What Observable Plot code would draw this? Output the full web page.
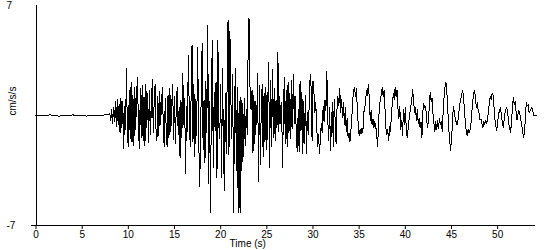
<!DOCTYPE html>
<html>
<head>
<meta charset="utf-8">
<script src="https://cdn.jsdelivr.net/npm/d3@7"></script>
<script src="https://cdn.jsdelivr.net/npm/@observablehq/plot@0.6"></script>
<style>
  html, body { margin: 0; padding: 0; background: #fff; }
  #chart svg { display: block; }
</style>
</head>
<body>
<div id="chart"></div>
<script>
// ---- data (acceleration, cm/s/s) ----
const xLabel = "Time (s)";
const yLabel = "cm/s/s";
const xTicks = [0, 5, 10, 15, 20, 25, 30, 35, 40, 45, 50];
const yTicks = [-7, 7];

// pre-event noise, t = 0 .. 7.5 s, every 0.5 s
const preStart = 0, preStep = 0.5;
const accPre = [0, 0.03, -0.03, 0.04, 0, -0.04, 0.03, -0.02, 0.04, -0.03, 0.02, -0.04, 0.03, 0, -0.03, 0.05];

// main record, every 0.1 s
const step = 0.1;
const start08 = 8;
const acc08to18 = [
  0.1, -0.3, 0.4, -0.5, 0.5, -0.4, 0.9, -0.7, 1.0, -0.6,
  0.7, -1.1, 1.1, -0.8, 0.9, -2.1, 0.6, -0.9, 3.0, -1.2,
  -2.0, 1.6, -1.5, 2.1, -1.7, 1.3, -1.9, 1.8, -0.9, 1.5,
  2.4, -1.0, -2.1, 1.7, -1.4, 1.9, -1.6, 1.2, -1.9, 2.0,
  -0.8, 1.4, -1.7, 1.6, -1.2, 0.7, 2.3, -1.1, 0.9, 2.0,
  -0.9, -1.6, 1.2, -1.3, 1.5, -0.6, 1.0, 1.8, -1.2, -2.0,
  1.1, -0.8, -2.0, 1.3, -1.4, 1.7, -1.0, 0.6, 2.0, -1.5,
  1.2, -1.8, 0.8, 1.8, -1.2, 0.5, -2.7, 1.0, -1.4, 2.7,
  -0.6, 1.1, -3.7, 0.6, -1.0, 3.8, 0.3, -2.0, 1.3, 4.5,
  -1.7, 2.0, -2.6, 1.0, -1.3, 4.3, 0.2, -4.5, -2.8, 1.9
];
const start18 = 18;
const acc18to28 = [
  4.6, -2.2, 1.0, -3.0, 2.2, -1.1, 5.7, -4.3, 0.9, -6.2,
  1.6, 4.8, -3.3, 1.5, -1.0, 2.1, -3.95, 4.8, -0.6, -1.5,
  2.0, -3.95, 3.0, -1.8, -4.8, 1.4, -2.4, 2.0, 6.05, -2.5,
  5.35, 1.2, -1.5, 2.6, -6.2, 0.5, 3.0, -3.5, 1.8, -6.2,
  0.9, -6.2, 1.2, -3.5, 0.8, -2.6, 1.1, -1.9, 0.4, -1.2,
  6.2, 6.1, 0.8, 0.4, 1.6, -2.4, 1.3, -1.8, 0.9, -0.6,
  2.7, -4.2, 1.9, -3.1, 0.6, 2.0, -2.6, 1.4, -1.7, 1.8,
  -2.2, 0.7, 3.4, -3.3, 2.2, -2.0, 2.9, -1.4, 1.7, -1.6,
  1.0, -0.8, 4.0, -1.0, 1.2, -0.5, 0.8, -3.3, 0.6, 2.4,
  -1.8, 1.6, -2.0, 2.1, -1.1, 1.4, -1.5, 2.2, -0.8, 2.6
];
const start28 = 28;
const acc28to38 = [
  -0.5, 1.2, -1.6, -2.3, 0.4, -2.3, 2.2, -1.0, 1.5, -2.4,
  0.9, -1.8, 1.3, -2.4, 0.2, -1.2, 1.0, 2.6, 1.8, -1.6,
  2.2, 1.5, 0.2, 0.8, -0.6, -2.0, -1.2, -2.4, -1.5, -0.5,
  -1.1, 0.6, -0.4, 1.0, 0.3, 2.8, -0.2, -1.6, 0.5, -2.2,
  -0.6, 0.8, -2.0, 1.0, -0.3, -1.8, 0.4, 1.2, 0.6, 1.7,
  0.2, 1.0, -0.1, 0.8, -0.6, 0.5, -1.0, -0.2, -1.4, -1.1,
  -1.7, -1.0, -0.2, 0.9, 1.6, 1.8, 1.2, 1.7, 0.5, -0.6,
  -1.3, -0.9, -1.2, -0.8, -1.1, 0.2, 0.4, 1.0, 1.6, 1.3,
  2.0, 1.1, -0.3, 0.3, -0.6, -0.2, -0.8, -0.4, -0.7, -1.2,
  -2.0, -0.5, 0.6, 1.0, 1.4, 1.8, 1.2, 1.6, 0.4, -0.8
];
const start38 = 38;
const acc38to48 = [
  -1.2, -0.9, -1.6, -0.7, -1.0, 0.1, 0.8, 1.4, 1.0, 1.8,
  1.2, 1.6, 0.5, -0.2, 0.6, -0.9, -0.3, -1.3, 0.4, -0.6,
  0.5, -0.8, -1.4, -0.9, -0.3, 0.2, 0.6, 1.0, 1.65, 0.9,
  0.2, 0.5, -0.3, 0.4, -0.5, -0.2, -0.8, -0.4, -1.4, 0.3,
  0.75, 0.5, 0.6, -0.2, -0.75, -0.4, 0.6, 1.5, 0.9, 1.1,
  0.1, -0.5, -1.0, -0.4, -0.9, -0.3, -0.8, -0.2, -0.6, -0.4,
  -1.0, 0.2, 1.2, 1.8, 2.1, 1.5, 0.4, -0.8, -1.5, -2.2,
  -1.6, -0.6, 0.6, 0.3, -0.2, -0.4, -0.6, -0.3, 0.2, 0.7,
  1.0, 1.3, 1.6, 1.2, 0.4, -0.5, -1.0, -1.3, -0.9, -1.1,
  -0.95, -0.6, 0.2, 0.9, 1.4, 1.6, 1.1, 0.5, 0.8, 0.3
];
const start48 = 48;
const acc48to54 = [
  0.1, -0.3, -0.2, -0.5, -0.8, -0.4, -0.6, -0.3, -0.5, -0.3,
  0.3, 0.8, 1.2, 1.0, 1.4, 1.3, 0.6, -0.2, -0.7, -0.95,
  -0.4, 0.1, 0.3, 0.5, 0.1, -0.4, -0.75, -0.3, 0.2, 0.4,
  0.5, 0.1, -0.5, -0.8, -1.1, -0.4, 0.5, 1.15, 0.7, 0.9,
  0.2, -0.3, 0.1, 0.3, 0.1, -0.2, -0.6, -1.0, -1.4, -1.1,
  -0.2, 0.8, 0.6, 0.7, 0.2, 0.3, 0.4, 0.5, 0.3, 0,
  0, 0, 0
];

// ---- build table from the sampled segments ----
const segments = [
  [preStart, preStep, accPre],
  [start08, step, acc08to18],
  [start18, step, acc18to28],
  [start28, step, acc28to38],
  [start38, step, acc38to48],
  [start48, step, acc48to54]
];
const rows = [];
for (const [t0, dt, vals] of segments) {
  vals.forEach((a, i) => rows.push({t: +(t0 + i * dt).toFixed(3), a}));
}

const font = "Liberation Sans, Arial, sans-serif";

const chart = Plot.plot({
  width: 550,
  height: 250,
  marginLeft: 35.5,
  marginRight: 15,
  marginTop: 5,
  marginBottom: 25,
  style: {fontFamily: font, fontSize: "10px", background: "#fff", color: "#000"},
  x: {domain: [0, 54.1], axis: null},
  y: {domain: [-7, 7], axis: null},
  marks: [
    Plot.ruleY([-7], {stroke: "#000", insetLeft: -5, shapeRendering: "crispEdges"}),
    Plot.ruleX([0], {stroke: "#000", shapeRendering: "crispEdges"}),
    Plot.axisX({ticks: xTicks, tickSize: 4, tickPadding: 1, label: null, tickFormat: d => String(d), fontSize: 10}),
    Plot.text(yTicks, {y: d => d, text: d => String(d), frameAnchor: "left", dx: -29.5, textAnchor: "start", fontSize: 10}),
    Plot.text([yLabel], {text: d => d, frameAnchor: "left", dx: -23.5, rotate: -90, fontSize: 10}),
    Plot.text([xLabel], {text: d => d, frameAnchor: "bottom", dx: -38, dy: 21, fontSize: 10}),
    Plot.line(rows, {x: "t", y: "a", stroke: "#000", strokeWidth: 1, shapeRendering: "crispEdges"})
  ]
});

document.getElementById("chart").appendChild(chart);
</script>
</body>
</html>
